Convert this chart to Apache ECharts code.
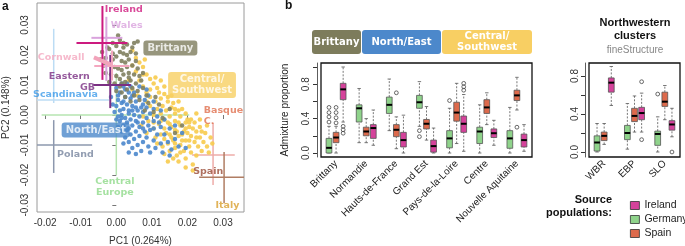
<!DOCTYPE html>
<html>
<head>
<meta charset="utf-8">
<script src="https://cdn.jsdelivr.net/npm/echarts@6.0.0/dist/echarts.min.js"></script>
<style>
  html, body { margin: 0; padding: 0; background: #fff; }
  #chart { width: 685px; height: 246px; }
</style>
</head>
<body>
<div id="chart"></div>
<script>
// ---- panel a : PCA of French individuals ----
const pcaBrittany = [
  [-0.004,0.021],[-0.003,0.019],[-0.002,0.022],[-0.001,0.024],[0.000,0.023],[0.001,0.025],[0.002,0.024],[0.003,0.0235],
  [0.005,0.024],[0.006,0.0245],[-0.0035,0.0165],[-0.002,0.017],[-0.001,0.0185],[0.000,0.0195],[0.001,0.021],[0.002,0.0205],
  [0.003,0.020],[0.004,0.021],[0.0015,0.018],[0.0025,0.0175],[0.0035,0.0185],[-0.0005,0.016],[0.0005,0.0155],[0.0015,0.015],
  [0.003,0.016],[0.0045,0.0165],[0.0055,0.018],[0.006,0.0155],[-0.003,0.014],[-0.0015,0.0135],[0.000,0.013],[0.001,0.012],
  [0.002,0.0135],[0.0035,0.014],[0.005,0.0135],[0.0065,0.013],[-0.002,0.011],[-0.0005,0.0105],[0.001,0.0095],[0.0025,0.011],
  [0.004,0.0115],[0.0055,0.0105],[0.007,0.0115],[0.000,0.008],[0.0015,0.0075],[0.003,0.0085],[0.0045,0.009],[0.006,0.008],
  [0.0075,0.009],[0.0025,0.006],[0.005,0.0065],[0.0085,0.0065],[0.004,0.0045],[0.0065,0.005],[0.009,0.004],[0.011,0.006],
  [0.012,0.0035],[0.0105,0.001],[0.013,-0.001],[0.008,0.0015],[-0.0025,0.0225],[-0.0045,0.0185],[0.0045,0.0225],[0.0005,0.0265],
  [-0.001,0.0205],[0.002,0.0225],[0.0035,0.0125],[0.0075,0.014],[0.0055,0.0205],[0.0015,0.0105],[0.0165,-0.006],[0.0185,-0.0035],
  [0.015,0.002]
];
const pcaNorthEast = [
  [0.000,0.009],[0.001,0.0075],[0.002,0.0095],[0.0005,0.005],[0.0015,0.004],[0.0025,0.006],[0.0035,0.0075],[0.004,0.0055],
  [0.003,0.0035],[0.002,0.002],[0.001,0.0015],[0.000,0.003],[-0.0005,0.001],[0.0005,-0.0005],[0.0015,0.000],[0.0025,-0.001],
  [0.0035,0.0015],[0.0045,0.003],[0.0055,0.0045],[0.0065,0.006],[0.005,0.0075],[0.0075,0.0035],[0.006,0.0015],[0.005,0.000],
  [0.004,-0.0015],[0.003,-0.0025],[0.002,-0.0035],[0.001,-0.002],[0.0005,-0.004],[0.0015,-0.0055],[0.003,-0.005],[0.0045,-0.0035],
  [0.0055,-0.002],[0.0065,-0.0005],[0.0075,0.001],[0.0085,0.0025],[0.0095,0.0005],[0.0085,-0.001],[0.0075,-0.0025],[0.0065,-0.004],
  [0.0055,-0.0055],[0.004,-0.0065],[0.0025,-0.0075],[0.0035,-0.009],[0.005,-0.008],[0.0065,-0.007],[0.008,-0.0055],[0.009,-0.0035],
  [0.0105,-0.002],[0.0115,-0.0005],[0.0105,0.002],[0.0095,-0.005],[0.0085,-0.0075],[0.0075,-0.009],[0.006,-0.010],[0.0045,-0.011],
  [0.0035,-0.0125],[0.007,-0.012],[0.009,-0.0105],[0.0105,-0.0085],[0.0115,-0.0065],[0.0125,-0.004],[0.0135,-0.0065],[0.0125,-0.0095],
  [0.011,-0.011],[0.0145,-0.009],[0.0155,-0.0115],[0.0165,-0.008],[0.0175,-0.0105],[0.013,-0.0125],[0.0095,-0.0125],[0.008,0.005],
  [0.009,0.0065],[0.0105,0.0045],[0.0065,0.0095],[0.004,0.0095],[0.0015,0.0105],[-0.0015,0.006],[-0.001,0.0035],[0.000,-0.0015],
  [0.002,0.0045],[0.0045,0.0015],[0.0035,-0.0045],[0.006,-0.0025],[0.007,0.0025],[0.0025,0.0085],[0.0055,0.0025],[0.0015,-0.001],
  [0.0045,0.0065],[0.0105,-0.0045],[0.0125,0.0015],[0.012,-0.0025],[0.0135,-0.0015],[0.015,-0.0045],[0.0055,-0.013],[0.002,-0.0095],
  [0.0185,-0.006],[0.0165,-0.0035],[0.0195,-0.011],[0.015,-0.0135],[0.0085,0.0085],[0.0005,0.0065],[0.0035,0.0005],[0.0075,-0.0045],
  [0.003,0.0105]
];
const pcaCentralSW = [
  [0.0045,0.0215],[0.0055,0.019],[0.0065,0.0175],[0.0045,0.0165],[0.0075,0.016],[0.0055,0.0145],[0.0085,0.0135],[0.0065,0.0115],
  [0.0095,0.012],[0.0075,0.0095],[0.0105,0.0105],[0.0085,0.0075],[0.0115,0.009],[0.012,0.0075],[0.0095,0.006],[0.011,0.0045],
  [0.0125,0.0055],[0.0135,0.007],[0.0145,0.0045],[0.013,0.003],[0.0115,0.002],[0.0095,0.003],[0.0105,0.000],[0.0125,0.0005],
  [0.014,0.0015],[0.0155,0.0025],[0.0165,0.0005],[0.015,-0.0005],[0.0135,-0.0015],[0.012,-0.003],[0.0105,-0.0045],[0.009,-0.002],
  [0.0075,-0.0005],[0.0135,-0.0045],[0.015,-0.003],[0.0165,-0.002],[0.018,-0.0005],[0.0195,0.0005],[0.0175,0.0015],[0.021,-0.0015],
  [0.0195,-0.0025],[0.018,-0.0035],[0.0165,-0.005],[0.015,-0.0065],[0.0135,-0.008],[0.0125,-0.0065],[0.011,-0.0075],[0.0115,-0.0095],
  [0.013,-0.0105],[0.0145,-0.0095],[0.016,-0.0085],[0.0175,-0.007],[0.019,-0.0055],[0.0205,-0.004],[0.022,-0.0025],[0.0235,-0.004],
  [0.0225,-0.0055],[0.021,-0.007],[0.0195,-0.0085],[0.018,-0.010],[0.0165,-0.011],[0.015,-0.012],[0.0135,-0.013],[0.017,-0.0135],
  [0.019,-0.012],[0.0205,-0.0105],[0.022,-0.009],[0.0235,-0.0075],[0.025,-0.006],[0.0245,-0.009],[0.0265,-0.0075],[0.023,-0.0105],
  [0.021,-0.0125],[0.0225,-0.0135],[0.0195,-0.0145],[0.0215,-0.0165],[0.024,-0.012],[0.0255,-0.0105],[0.0175,-0.0155],[0.016,-0.0145],
  [0.0145,-0.0155],[0.020,-0.0015],[0.0225,0.0005],[0.0185,0.002],[0.016,0.004],[0.0145,0.006],[0.0175,-0.0025],[0.0155,-0.004],
  [0.0185,-0.0065],[0.020,-0.006],[0.0215,-0.0045],[0.0195,-0.0045],[0.017,-0.0055],[0.0155,-0.0075],[0.014,-0.006],[0.0185,-0.0085],
  [0.0165,-0.0095],[0.0225,-0.0075],[0.024,-0.0055],[0.0205,-0.0085],[0.0145,-0.0025],[0.0125,-0.002],[0.0165,0.002],[0.0095,0.0085],
  [0.0135,0.0095],[0.011,0.0125],[0.0075,0.0135],[0.006,0.0065],[0.0085,0.0045],[0.0105,-0.0025],[0.0085,-0.006],[0.007,-0.0035],
  [0.0255,-0.0035],[0.027,-0.0095],[0.026,-0.0125],[0.0215,-0.0185],[0.0195,-0.0175],[0.018,-0.0125],[0.0205,-0.0025],[0.0235,-0.0015],
  [0.0155,0.0065],[0.0175,0.0045],[0.0125,0.0115],[0.008,0.0185],[0.0035,0.0115],[0.0045,0.0085]
];

// reference populations projected: centre and spread (crosses)
const refPops = ['Ireland', 'Wales', 'Cornwall', 'Eastern GB', 'Scandinavia', 'Central Europe', 'Poland', 'Basque C.', 'Spain'];
const refX    = [-0.0039, -0.0028, -0.0012, -0.0017, -0.0176, 0.0000, -0.0176, 0.0272, 0.0303];
const refY    = [0.0240, 0.0257, 0.0163, 0.0100, 0.0050, 0.0000, -0.0100, -0.0133, -0.0207];
const refXLo  = [-0.0112, -0.0070, -0.0062, -0.0064, -0.0230, -0.0210, -0.0230, 0.0213, 0.0233];
const refXHi  = [0.0031, 0.0017, 0.0037, 0.0041, -0.0020, 0.0205, -0.0068, 0.0333, 0.0370];
const refYLo  = [0.0117, 0.0113, 0.0115, 0.0023, 0.0040, -0.0200, -0.0193, -0.0233, -0.0293];
const refYHi  = [0.0363, 0.0327, 0.0215, 0.0200, 0.0287, 0.0140, -0.0017, -0.0027, -0.0123];
const refColor = ['#cc1a7f', '#d9a3dd', '#f4a7bf', '#7b2f83', '#bcdcf4', '#b6e4b0', '#8d98ae', '#eeaca9', '#b07d63'];

const pcaTicks = [-0.03, -0.02, -0.01, 0, 0.01, 0.02, 0.03];

// ---- panel b : admixture proportions [min, q1, median, q3, max] ----
const regions = ['Brittany', 'Normandie', 'Hauts-de-France', 'Grand Est', 'Pays-de-la-Loire', 'Centre', 'Nouvelle Aquitaine'];
const regionGermany = [
  [0.00, 0.00, 0.06, 0.17, 0.31], [0.12, 0.36, 0.52, 0.56, 0.75], [0.26, 0.46, 0.56, 0.65, 0.86],
  [0.31, 0.52, 0.59, 0.67, 0.83], [0.00, 0.06, 0.17, 0.26, 0.52], [0.00, 0.11, 0.25, 0.30, 0.56],
  [0.00, 0.055, 0.17, 0.26, 0.53]
];
const regionSpain = [
  [0.00, 0.12, 0.18, 0.24, 0.31], [0.12, 0.20, 0.25, 0.30, 0.40], [0.05, 0.19, 0.27, 0.33, 0.42],
  [0.15, 0.28, 0.34, 0.39, 0.54], [0.11, 0.37, 0.47, 0.59, 0.81], [0.33, 0.46, 0.53, 0.62, 0.70],
  [0.50, 0.61, 0.67, 0.73, 0.88]
];
const regionIreland = [
  [0.36, 0.62, 0.74, 0.81, 1.00], [0.09, 0.17, 0.29, 0.33, 0.50], [0.00, 0.07, 0.15, 0.24, 0.44],
  [0.00, 0.01, 0.08, 0.15, 0.29], [0.02, 0.24, 0.34, 0.43, 0.68], [0.09, 0.18, 0.23, 0.28, 0.38],
  [0.02, 0.07, 0.15, 0.22, 0.33]
];
const regionGermanyOut = [[0.36, 0.42, 0.47, 0.53], [], [], [0.19, 0.26], [0.61], [], []];
const regionSpainOut   = [[0.35, 0.41, 0.47, 0.53], [], [0.70], [], [], [], [0.30]];
const regionIrelandOut = [[0.23, 0.27, 0.31], [], [], [], [0.73, 0.77, 0.81], [], []];

const clusters = ['WBR', 'EBP', 'SLO'];
const clusterGermany = [[0.00, 0.01, 0.10, 0.17, 0.30], [0.03, 0.13, 0.20, 0.28, 0.51], [0.00, 0.07, 0.19, 0.22, 0.37]];
const clusterSpain   = [[0.08, 0.12, 0.17, 0.21, 0.30], [0.21, 0.32, 0.38, 0.46, 0.59], [0.34, 0.48, 0.53, 0.63, 0.70]];
const clusterIreland = [[0.49, 0.63, 0.73, 0.78, 0.90], [0.21, 0.34, 0.41, 0.47, 0.62], [0.16, 0.23, 0.29, 0.33, 0.46]];
const clusterGermanyOut = [[], [], [0.61]];
const clusterSpainOut   = [[], [], []];
const clusterIrelandOut = [[], [0.13, 0.74], [0.00]];

const admixTicks = [0, 0.2, 0.4, 0.6, 0.8, 1.0];
const admixLabels = [0, 0.4, 0.8];

const GREEN = '#8fd38b', ORANGE = '#dd6a4c', MAGENTA = '#d5429b';
const BOLD = 'DejaVu Sans';

const chart = echarts.init(document.getElementById('chart'), null, { renderer: 'canvas' });

function boxItem(slot, outs) {
  return function (params, api) {
    const i = api.value(0);
    const band = api.size([1, 0])[0];
    const dx = slot * band * 0.235;
    const half = band * 0.095;
    const pt = v => { const p = api.coord([i, v]); return [p[0] + dx, p[1]]; };
    const lo = pt(api.value(1)), q1 = pt(api.value(2)), md = pt(api.value(3)), q3 = pt(api.value(4)), hi = pt(api.value(5));
    const x = lo[0];
    const dash = { stroke: '#555', lineWidth: 0.8, lineDash: [2, 1.5] };
    const solid = { stroke: '#555', lineWidth: 0.8 };
    const cap = half * 0.6;
    const children = [
      { type: 'line', shape: { x1: x, y1: q3[1], x2: x, y2: hi[1] }, style: dash },
      { type: 'line', shape: { x1: x, y1: lo[1], x2: x, y2: q1[1] }, style: dash },
      { type: 'line', shape: { x1: x - cap, y1: hi[1], x2: x + cap, y2: hi[1] }, style: solid },
      { type: 'line', shape: { x1: x - cap, y1: lo[1], x2: x + cap, y2: lo[1] }, style: solid },
      { type: 'rect', shape: { x: x - half, y: q3[1], width: half * 2, height: q1[1] - q3[1] },
        style: { fill: api.visual('color'), stroke: '#555', lineWidth: 0.8 } },
      { type: 'line', shape: { x1: x - half, y1: md[1], x2: x + half, y2: md[1] }, style: { stroke: '#000', lineWidth: 2 } }
    ];
    (outs[params.dataIndex] || []).forEach(v => {
      const p = pt(v);
      children.push({ type: 'circle', shape: { cx: p[0], cy: p[1], r: 1.9 },
        style: { fill: 'none', stroke: '#444', lineWidth: 0.8 } });
    });
    return { type: 'group', children };
  };
}

function boxSeries(name, color, stats, outs, slot, axisIdx) {
  return {
    name, type: 'custom', xAxisIndex: axisIdx, yAxisIndex: axisIdx,
    itemStyle: { color },
    encode: { x: 0, y: [1, 2, 3, 4, 5] },
    data: stats.map((s, i) => [i].concat(s)),
    renderItem: boxItem(slot, outs)
  };
}

function crossSeries(idx, z) {
  return {
    type: 'custom', xAxisIndex: 0, yAxisIndex: 0, z, clip: true, silent: true,
    data: idx.map(i => [refX[i], refY[i], refXLo[i], refXHi[i], refYLo[i], refYHi[i], i]),
    renderItem: function (params, api) {
      const k = api.value(6);
      const w = k < 4 ? 2 : 1.5;
      const a = api.coord([api.value(2), api.value(1)]), b = api.coord([api.value(3), api.value(1)]);
      const c = api.coord([api.value(0), api.value(4)]), d = api.coord([api.value(0), api.value(5)]);
      const st = { stroke: refColor[k], lineWidth: w };
      return { type: 'group', children: [
        { type: 'line', shape: { x1: a[0], y1: a[1], x2: b[0], y2: b[1] }, style: st },
        { type: 'line', shape: { x1: c[0], y1: c[1], x2: d[0], y2: d[1] }, style: st }
      ] };
    }
  };
}

function tag(x, y, text, color, opt) {
  return Object.assign({
    value: [x, y],
    label: { show: true, position: 'inside', formatter: text, color, fontFamily: BOLD, fontWeight: 'bold', fontSize: 9.5, lineHeight: 11 }
  }, opt || {});
}
function boxTag(x, y, text, bg) {
  return {
    value: [x, y],
    label: { show: true, position: 'inside', formatter: text, color: '#fff', fontFamily: BOLD, fontWeight: 'bold',
      fontSize: 10, lineHeight: 11, backgroundColor: bg, borderRadius: 3, padding: [2, 4] }
  };
}
function leftTag(x, y, text, color) {
  const t = tag(x, y, text, color);
  t.label.position = 'right';
  t.label.distance = 0;
  return t;
}

const pcaTags = [
  tag(0.0021, 0.0352, 'Ireland', '#d01c80'),
  tag(0.0029, 0.0298, 'Wales', '#d9a3dd'),
  tag(-0.0155, 0.0193, 'Cornwall', '#f4a7bf'),
  tag(-0.0132, 0.0127, 'Eastern', '#7b2f83'),
  tag(-0.0081, 0.0093, 'GB', '#7b2f83'),
  tag(-0.0143, 0.0067, 'Scandinavia', '#3f9cea'),
  tag(-0.0004, -0.0240, 'Central\nEurope', '#8fd98a'),
  tag(-0.0115, -0.0130, 'Poland', '#77849e'),
  leftTag(0.0246, -0.0003, 'Basque\nC.', '#e0704f'),
  leftTag(0.0216, -0.0187, 'Spain', '#9a4b36'),
  leftTag(0.0279, -0.0303, 'Italy', '#d9a030'),
  boxTag(0.0152, 0.0223, 'Brittany', '#7d7c5c'),
  boxTag(0.0241, 0.0100, 'Central/\nSouthwest', '#f8cf63'),
  boxTag(-0.0058, -0.0050, 'North/East', '#4c88cb')
];

const tickLabel = { color: '#333', fontSize: 10, fontFamily: 'Liberation Sans' };

const option = {
  animation: false,
  textStyle: { fontFamily: 'Liberation Sans' },
  grid: [
    { left: 37, top: 3, width: 207, height: 209, show: true, borderColor: '#9a9a9a', borderWidth: 1, outerBoundsMode: 'none' },
    { left: 321, top: 63, width: 211, height: 94, show: true, borderColor: '#111', borderWidth: 1.3, outerBoundsMode: 'none' },
    { left: 589, top: 63, width: 91, height: 94, show: true, borderColor: '#111', borderWidth: 1.3, outerBoundsMode: 'none' }
  ],
  xAxis: [
    { type: 'value', gridIndex: 0, min: -0.0223, max: 0.0359, splitLine: { show: false },
      axisLine: { show: false }, axisTick: { show: true, length: 4, lineStyle: { color: '#777' }, customValues: pcaTicks.slice(1) },
      axisLabel: Object.assign({ customValues: pcaTicks.slice(1), margin: 6, formatter: v => v.toFixed(2) }, tickLabel),
      name: 'PC1 (0.264%)', nameLocation: 'middle', nameGap: 24, nameTextStyle: { color: '#333', fontSize: 10 } },
    { type: 'category', gridIndex: 1, data: regions, boundaryGap: true,
      axisLine: { show: false }, axisTick: { show: false },
      axisLabel: { rotate: 45, interval: 0, margin: 5, color: '#222', fontSize: 10, fontFamily: 'Liberation Sans' } },
    { type: 'category', gridIndex: 2, data: clusters, boundaryGap: true,
      axisLine: { show: false }, axisTick: { show: false },
      axisLabel: { rotate: 45, interval: 0, margin: 5, color: '#222', fontSize: 10, fontFamily: 'Liberation Sans' } }
  ],
  yAxis: [
    { type: 'value', gridIndex: 0, min: -0.0323, max: 0.0373, splitLine: { show: false },
      axisLine: { show: false }, axisTick: { show: true, length: 4, lineStyle: { color: '#777' }, customValues: pcaTicks },
      axisLabel: Object.assign({ customValues: pcaTicks, rotate: 90, margin: 7, formatter: v => v.toFixed(2) }, tickLabel),
      name: 'PC2 (0.148%)', nameLocation: 'middle', nameGap: 26, nameRotate: 90, nameTextStyle: { color: '#333', fontSize: 10 } },
    { type: 'value', gridIndex: 1, min: -0.0465, max: 1.0465, offset: 4, splitLine: { show: false },
      axisLine: { show: true, lineStyle: { color: '#333', width: 0.8 } },
      axisTick: { show: true, length: 4, lineStyle: { color: '#333' }, customValues: admixTicks },
      axisLabel: Object.assign({ customValues: admixLabels, rotate: 90, margin: 6, formatter: v => v.toFixed(1) }, tickLabel),
      name: 'Admixture proportion', nameLocation: 'middle', nameGap: 27, nameRotate: 90,
      nameTextStyle: { color: '#222', fontSize: 10 } },
    { type: 'value', gridIndex: 2, min: -0.0526, max: 0.937, offset: 4, splitLine: { show: false },
      axisLine: { show: true, lineStyle: { color: '#333', width: 0.8 } },
      axisTick: { show: true, length: 4, lineStyle: { color: '#333' }, customValues: admixTicks.slice(0, 5) },
      axisLabel: Object.assign({ customValues: admixLabels, rotate: 90, margin: 5, formatter: v => v.toFixed(1) }, tickLabel) }
  ],
  legend: {
    orient: 'vertical', left: 625, top: 195, itemWidth: 9, itemHeight: 8, itemGap: 3, icon: 'rect',
    selectedMode: false, data: ['Ireland', 'Germany', 'Spain'],
    itemStyle: { borderColor: '#333', borderWidth: 0.8 },
    textStyle: { color: '#222', fontSize: 10.5, fontFamily: 'Liberation Sans', lineHeight: 11 }
  },
  series: [
    crossSeries([4, 5, 6, 7, 8], 1),
    { type: 'scatter', xAxisIndex: 0, yAxisIndex: 0, z: 2, symbolSize: 4.5, silent: true,
      itemStyle: { color: '#f7cb4d', opacity: 0.9 }, data: pcaCentralSW },
    { type: 'scatter', xAxisIndex: 0, yAxisIndex: 0, z: 3, symbolSize: 4.5, silent: true,
      itemStyle: { color: '#4b87cc', opacity: 0.9 }, data: pcaNorthEast },
    { type: 'scatter', xAxisIndex: 0, yAxisIndex: 0, z: 4, symbolSize: 4.5, silent: true,
      itemStyle: { color: '#7f7f5f', opacity: 0.9 }, data: pcaBrittany },
    crossSeries([3, 2, 1, 0], 5),
    { type: 'line', xAxisIndex: 0, yAxisIndex: 0, z: 5, symbol: 'none', silent: true,
      lineStyle: { color: '#f2a3ba', width: 4 }, data: [[-0.0063, 0.0192], [-0.0015, 0.0168]] },
    { type: 'scatter', xAxisIndex: 0, yAxisIndex: 0, z: 6, symbolSize: 0, silent: true, data: pcaTags },

    boxSeries('Germany', GREEN, regionGermany, regionGermanyOut, -1, 1),
    boxSeries('Spain', ORANGE, regionSpain, regionSpainOut, 0, 1),
    boxSeries('Ireland', MAGENTA, regionIreland, regionIrelandOut, 1, 1),
    boxSeries('Germany', GREEN, clusterGermany, clusterGermanyOut, -1, 2),
    boxSeries('Spain', ORANGE, clusterSpain, clusterSpainOut, 0, 2),
    boxSeries('Ireland', MAGENTA, clusterIreland, clusterIrelandOut, 1, 2)
  ],
  graphic: [
    { type: 'text', left: 2, top: 1, style: { text: 'a', font: 'bold 12px Liberation Sans', fill: '#111' } },
    { type: 'text', left: 285, top: 0, style: { text: 'b', font: 'bold 12px Liberation Sans', fill: '#111' } },
    { type: 'rect', shape: { x: 312, y: 30, width: 49, height: 24, r: 3 }, style: { fill: '#7d7c5c' } },
    { type: 'rect', shape: { x: 362, y: 30, width: 79, height: 24, r: 3 }, style: { fill: '#4c88cb' } },
    { type: 'rect', shape: { x: 442, y: 30, width: 90, height: 24, r: 3 }, style: { fill: '#f8cf63' } },
    { type: 'text', x: 336.5, y: 42, style: { text: 'Brittany', fill: '#fff', font: 'bold 10px DejaVu Sans', align: 'center', verticalAlign: 'middle' } },
    { type: 'text', x: 401.5, y: 42, style: { text: 'North/East', fill: '#fff', font: 'bold 10px DejaVu Sans', align: 'center', verticalAlign: 'middle' } },
    { type: 'text', x: 487, y: 42, style: { text: 'Central/\nSouthwest', fill: '#fff', font: 'bold 10px DejaVu Sans', lineHeight: 11, align: 'center', verticalAlign: 'middle' } },
    { type: 'text', x: 635, y: 23, style: { text: 'Northwestern', fill: '#111', font: 'bold 11px Liberation Sans', align: 'center', verticalAlign: 'middle' } },
    { type: 'text', x: 635, y: 36, style: { text: 'clusters', fill: '#111', font: 'bold 11px Liberation Sans', align: 'center', verticalAlign: 'middle' } },
    { type: 'text', x: 635, y: 50, style: { text: 'fineStructure', fill: '#888', font: '10px Liberation Sans', align: 'center', verticalAlign: 'middle' } },
    { type: 'text', x: 612, y: 200, style: { text: 'Source', fill: '#111', font: 'bold 11px Liberation Sans', align: 'right', verticalAlign: 'middle' } },
    { type: 'text', x: 612, y: 213, style: { text: 'populations:', fill: '#111', font: 'bold 11px Liberation Sans', align: 'right', verticalAlign: 'middle' } }
  ]
};

chart.setOption(option);
</script>
</body>
</html>
